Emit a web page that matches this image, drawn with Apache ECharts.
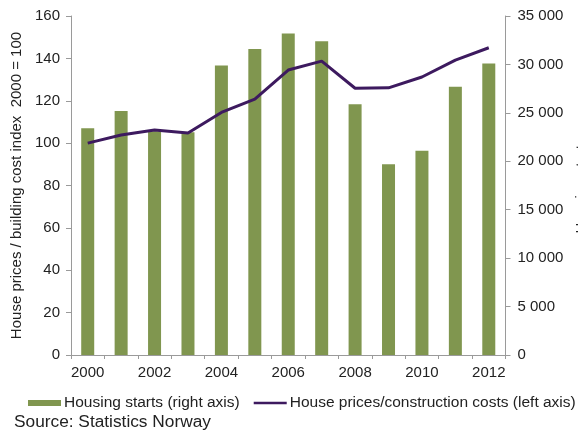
<!DOCTYPE html>
<html>
<head>
<meta charset="utf-8">
<script src="https://cdn.jsdelivr.net/npm/echarts@6/dist/echarts.min.js"></script>
<style>
  html, body { margin: 0; padding: 0; background: #ffffff; }
  #chart { width: 578px; height: 432px; }
</style>
</head>
<body>
<div id="chart"></div>
<script>
// Years on the category axis
const years = ['2000','2001','2002','2003','2004','2005','2006','2007','2008','2009','2010','2011','2012'];
// Housing starts, number of dwellings (right axis)
const housingStarts = [23400, 25200, 23100, 23000, 29900, 31600, 33200, 32400, 25900, 19700, 21100, 27700, 30100];
// House prices relative to building cost index, 2000 = 100 (left axis)
const priceCostIndex = [100, 103.8, 106.2, 104.8, 114.5, 120.8, 134.5, 138.7, 125.9, 126.1, 131.2, 139.2, 145.0];

const FONT = '"Liberation Sans", Arial, sans-serif';
const TXT = '#222222';
const AXIS = '#9a9a9a';
const BAR = '#80964f';
const LINE = '#3d1a5f';

const chart = echarts.init(document.getElementById('chart'), null, { renderer: 'canvas' });

const fmtThousands = v => {
  const s = String(Math.round(v));
  return s.replace(/\B(?=(\d{3})+(?!\d))/g, ' ');
};

chart.setOption({
  animation: false,
  backgroundColor: '#ffffff',
  textStyle: { fontFamily: FONT },
  grid: { left: 71, right: 72.5, top: 16, bottom: 77, containLabel: false, outerBoundsMode: 'none' },
  legend: {
    left: 23, top: 390,
    width: 570,
    itemGap: 14,
    itemWidth: 33,
    itemHeight: 6,
    textStyle: { fontFamily: FONT, fontSize: 15.5, color: TXT, padding: [0, 0, 0, -2] },
    data: [
      { name: 'Housing starts (right axis)', icon: 'rect', itemStyle: { color: BAR } },
      { name: 'House prices/construction costs (left axis)', icon: 'path://M0,0 L33,0 L33,2.6 L0,2.6 Z', itemStyle: { color: LINE } }
    ]
  },
  graphic: [{
    type: 'text', left: 14, top: 414,
    style: { text: 'Source: Statistics Norway', fontFamily: FONT, fontSize: 17.3, fill: TXT }
  }],
  xAxis: {
    type: 'category',
    data: years,
    boundaryGap: true,
    axisLine: { show: true, lineStyle: { color: AXIS, width: 1 } },
    axisTick: { show: true, alignWithLabel: false, interval: 0, length: 4, lineStyle: { color: AXIS } },
    axisLabel: {
      interval: 1, margin: 10,
      fontFamily: FONT, fontSize: 15, color: TXT
    },
    splitLine: { show: false }
  },
  yAxis: [
    {
      type: 'value', min: 0, max: 160, interval: 20,
      name: 'House prices / building cost index  2000 = 100',
      nameLocation: 'middle', nameGap: 44, nameRotate: 90,
      nameTextStyle: { fontFamily: FONT, fontSize: 15, color: TXT },
      axisLine: { show: true, lineStyle: { color: AXIS } },
      axisTick: { show: true, length: 5, lineStyle: { color: AXIS } },
      axisLabel: { margin: 11, fontFamily: FONT, fontSize: 15, color: TXT },
      splitLine: { show: false }
    },
    {
      type: 'value', min: 0, max: 35000, interval: 5000,
      position: 'right',
      name: 'Housing starts',
      nameLocation: 'middle', nameGap: 66, nameRotate: 90,
      nameTextStyle: { fontFamily: FONT, fontSize: 15, color: TXT },
      axisLine: { show: true, lineStyle: { color: AXIS } },
      axisTick: { show: true, length: 5, lineStyle: { color: AXIS } },
      axisLabel: { margin: 12, fontFamily: FONT, fontSize: 15, color: TXT, formatter: fmtThousands },
      splitLine: { show: false }
    }
  ],
  series: [
    {
      name: 'Housing starts (right axis)',
      type: 'bar',
      yAxisIndex: 1,
      data: housingStarts,
      barWidth: 13,
      itemStyle: { color: BAR }
    },
    {
      name: 'House prices/construction costs (left axis)',
      type: 'line',
      yAxisIndex: 0,
      data: priceCostIndex,
      symbol: 'none',
      lineStyle: { color: LINE, width: 3 },
      itemStyle: { color: LINE }
    }
  ]
});
</script>
</body>
</html>
